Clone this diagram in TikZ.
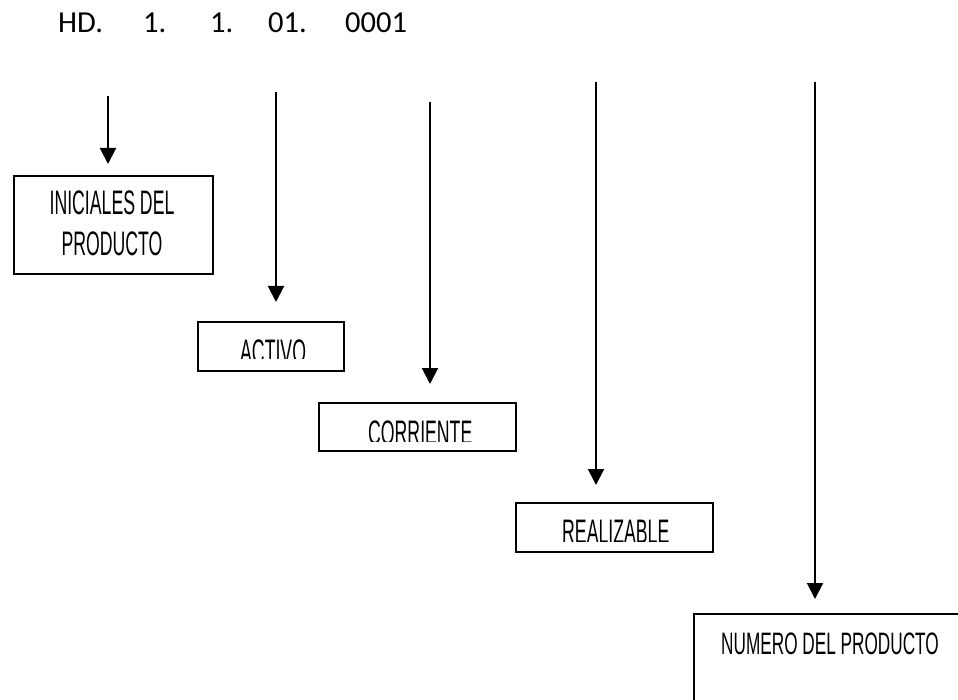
\documentclass[tikz,border=0pt]{standalone}
\usepackage{fontspec}
\setmainfont{Carlito}
\newfontfamily\condensed[FakeStretch=0.52]{Liberation Sans}
\newfontfamily\condensedb[FakeStretch=0.555]{Liberation Sans}
\usetikzlibrary{arrows.meta}
\begin{document}
\begin{tikzpicture}[x=1pt,y=-1pt,
  box/.style={draw=black,line width=1.6pt,inner sep=0pt,fill=white},
  label/.style={font=\condensed\fontsize{34}{38}\selectfont,inner sep=0pt},
  code/.style={font=\fontsize{30.5}{34}\selectfont,anchor=base west,inner sep=0pt},
  arr/.style={line width=2pt,-{Triangle[width=16pt,length=16pt]}}]
\useasboundingbox (0,0) rectangle (958,700);
\clip (0,0) rectangle (958,700);

% code digits
\node[code] (hd) at (58,33) {HD.};
\node[code] (c1) at (143,33) {1.};
\node[code] (c2) at (210,33) {1.};
\node[code] (c3) at (268,33) {01.};
\node[code] (c4) at (345,33) {0001};

% boxes
\node[box,anchor=north west,minimum width=199,minimum height=98] (inic) at (13,175) {};
\node[box,anchor=north west,minimum width=146,minimum height=49] (activo) at (197,321) {};
\node[box,anchor=north west,minimum width=197,minimum height=48] (corr) at (318,402) {};
\node[box,anchor=north west,minimum width=197,minimum height=49] (real) at (515,502) {};
\node[box,anchor=north west,minimum width=290,minimum height=120] (numero) at (693,613) {};

% box texts
\node[label,anchor=base] (t1) at (112,215) {INICIALES DEL};
\node[label,anchor=base] (t2) at (112,256) {PRODUCTO};
\begin{scope}
  \clip (197,321) rectangle (343,359);
  \node[label,anchor=base west] (t3) at (240,363) {ACTIVO};
\end{scope}
\begin{scope}
  \clip (318,402) rectangle (515,441);
  \node[label,anchor=base west] (t4) at (368,444) {CORRIENTE};
\end{scope}
\begin{scope}
  \clip (515,502) rectangle (712,541);
  \node[label,anchor=base west] (t5) at (562,543) {REALIZABLE};
\end{scope}
\node[label,font=\condensedb\fontsize{31}{35}\selectfont,anchor=base west] (t6) at (721,654) {NUMERO DEL PRODUCTO};

% arrow ends
\coordinate (s1) at (108,96);  \coordinate (e1) at (108,164);
\coordinate (s2) at (276,92);  \coordinate (e2) at (276,302);
\coordinate (s3) at (430,102); \coordinate (e3) at (430,384);
\coordinate (s4) at (596,82);  \coordinate (e4) at (596,485);
\coordinate (s5) at (815,82);  \coordinate (e5) at (815,599);

\draw[arr] (s1) -- (e1);
\draw[arr] (s2) -- (e2);
\draw[arr] (s3) -- (e3);
\draw[arr] (s4) -- (e4);
\draw[arr] (s5) -- (e5);
\end{tikzpicture}
\end{document}
